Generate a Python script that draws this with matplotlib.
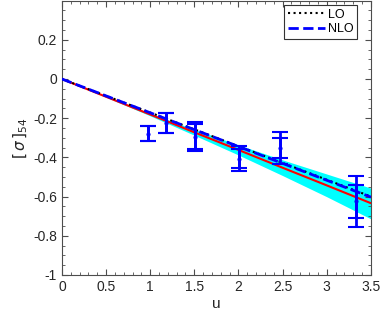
import matplotlib
matplotlib.use('Agg')
import matplotlib.pyplot as plt
from matplotlib.ticker import MultipleLocator, FuncFormatter

plt.rcParams['font.family'] = ['Liberation Sans', 'DejaVu Sans']
plt.rcParams['mathtext.fontset'] = 'dejavusans'

# lattice points: u, central value, inner (stat) and outer (total) errors
u_pts = [0.98, 1.18, 1.51, 2.01, 2.47, 3.335]
sig_pts = [-0.279, -0.224, -0.294, -0.407, -0.350, -0.625]
err_in = [0.039, 0.050, 0.063, 0.049, 0.051, 0.085]
err_out = [0.039, 0.052, 0.075, 0.065, 0.082, 0.130]

# fit band (red centre line with cyan uncertainty)
u_band = [0.0, 0.5, 1.0, 1.5, 2.0, 2.5, 3.0, 3.5]
band_mid = [0.0, -0.0906, -0.181, -0.272, -0.362, -0.453, -0.543, -0.634]
band_hi = [0.0, -0.089, -0.175, -0.257, -0.336, -0.413, -0.485, -0.557]
band_lo = [0.0, -0.093, -0.188, -0.287, -0.388, -0.493, -0.601, -0.714]

# LO / NLO curves
u_line = [0.0, 3.5]
lo_vals = [0.0, -0.600]
nlo_vals = [0.0, -0.603]

fig = plt.figure(figsize=(3.82, 3.16), dpi=100)
ax = fig.add_axes([0.162, 0.130, 0.809, 0.868])

ax.fill_between(u_band, band_lo, band_hi, color='cyan', lw=0, zorder=1)
ax.plot(u_band, band_mid, color='red', lw=1.5, zorder=2)
ax.plot(u_line, lo_vals, color='black', ls=':', lw=1.5, label='LO', zorder=3)
ax.plot(u_line, nlo_vals, color='blue', ls='--', lw=2, label='NLO', zorder=3)

ax.errorbar(u_pts, sig_pts, yerr=err_out, fmt='none', ecolor='blue',
            elinewidth=2, capsize=5.5, capthick=1.5, zorder=4)
ax.errorbar(u_pts, sig_pts, yerr=err_in, fmt='.', color='blue', ms=4,
            ecolor='blue', elinewidth=2, capsize=5.5, capthick=1.5, zorder=5)

ax.set_xlim(0, 3.5)
ax.set_ylim(-1, 0.4)
ax.xaxis.set_major_locator(MultipleLocator(0.5))
ax.xaxis.set_minor_locator(MultipleLocator(0.1))
ax.yaxis.set_major_locator(MultipleLocator(0.2))
ax.yaxis.set_minor_locator(MultipleLocator(0.05))
ax.set_yticks([-1, -0.8, -0.6, -0.4, -0.2, 0, 0.2])


def fmt(v, pos):
    s = f'{v:g}'
    return '0' if s in ('0', '-0') else s


ax.xaxis.set_major_formatter(FuncFormatter(fmt))
ax.yaxis.set_major_formatter(FuncFormatter(fmt))

ax.tick_params(which='both', direction='in', top=True, right=True,
               colors='0.3', labelcolor='0.15', labelsize=10)
ax.tick_params(which='major', length=4, width=0.8)
ax.tick_params(which='minor', length=2, width=0.6)
for s in ax.spines.values():
    s.set_color('0.3')
    s.set_linewidth(0.8)

ax.set_xlabel('u', fontsize=11, color='0.15', labelpad=2)
ax.set_ylabel(r'$[\,\sigma\,]_{54}$', fontsize=11, color='0.15', labelpad=2)

leg = ax.legend(loc='upper right', bbox_to_anchor=(0.955, 0.984),
                fontsize=9, frameon=True, fancybox=False,
                framealpha=1, edgecolor='0.2', handlelength=3.0,
                handletextpad=0.2, borderpad=0.3, labelspacing=0.2,
                borderaxespad=0)
leg.get_frame().set_linewidth(0.8)

fig.savefig('out.png', dpi=100)
